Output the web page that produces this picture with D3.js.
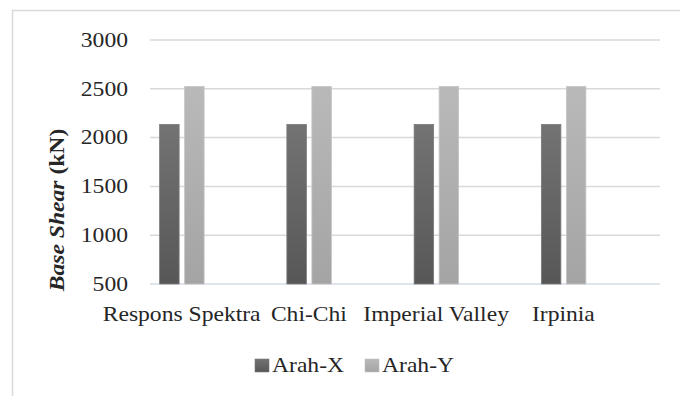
<!DOCTYPE html>
<html><head><meta charset="utf-8">
<script src="https://cdn.jsdelivr.net/npm/d3@7"></script>
<style>body{margin:0;background:#fff}svg{display:block}</style>
</head><body><svg id="c" width="680" height="396" font-family="'Times New Roman', 'Liberation Serif', Tinos, 'DejaVu Serif', serif"></svg>
<script>
const categories = ["Respons Spektra", "Chi-Chi", "Imperial Valley", "Irpinia"];
const seriesNames = ["Arah-X", "Arah-Y"];
const arahX = [2135, 2135, 2135, 2135];
const arahY = [2523, 2523, 2523, 2523];
const yTicks = [500, 1000, 1500, 2000, 2500, 3000];
const yTitle = ["Base Shear", " (kN)"];

const svg = d3.select("#c");
const stretch = 1.18;
const textColor = "#262626";
const plot = {left: 150, right: 660, top: 40, bottom: 284};

// frame
svg.append("path").attr("d", "M12.5,700 V10.5 H700").attr("fill","none").attr("stroke","#d9d9d9").attr("stroke-width",1.5);

const y = d3.scaleLinear().domain([500, 3000]).range([plot.bottom, plot.top]);
const x = d3.scaleBand().domain(categories).range([118, 627]);
const xs = d3.scaleBand().domain(seriesNames).range([-22, 22.5]).paddingInner(0.22);

const defs = svg.append("defs");
const grads = [["gX", "#737373", "#575757"], ["gY", "#b9b9b9", "#a4a4a4"]];
grads.forEach(([id, c1, c2]) => {
  const g = defs.append("linearGradient").attr("id", id).attr("x1",0).attr("y1",0).attr("x2",0).attr("y2",1);
  g.append("stop").attr("offset","0").attr("stop-color", c1);
  g.append("stop").attr("offset","1").attr("stop-color", c2);
});
const fills = {"Arah-X": "url(#gX)", "Arah-Y": "url(#gY)"};
const strokes = {"Arah-X": "#7a7a7a", "Arah-Y": "#c4c4c4"};

// gridlines
svg.append("g").selectAll("line").data(yTicks).join("line")
  .attr("x1", plot.left).attr("x2", plot.right)
  .attr("y1", d => y(d)).attr("y2", d => y(d))
  .attr("stroke", d => d === 500 ? "#d6dce4" : "#d9d9d9").attr("stroke-width", 1.5);

// y tick labels
svg.append("g").selectAll("text").data(yTicks).join("text")
  .attr("transform", d => `translate(128,${y(d)}) scale(${stretch},1)`)
  .attr("text-anchor", "end").attr("dy", "0.34em").attr("font-size", 20).attr("fill", textColor)
  .text(d => d);

// bars
const rows = categories.map((c, i) => ({c, vals: [{s: "Arah-X", v: arahX[i]}, {s: "Arah-Y", v: arahY[i]}]}));
const gc = svg.append("g").selectAll("g").data(rows).join("g")
  .attr("transform", d => `translate(${x(d.c) + x.bandwidth()/2},0)`);
gc.selectAll("rect").data(d => d.vals).join("rect")
  .attr("x", d => xs(d.s)).attr("width", xs.bandwidth())
  .attr("y", d => y(d.v)).attr("height", d => y(500) - y(d.v))
  .attr("fill", d => fills[d.s]).attr("stroke", d => strokes[d.s]).attr("stroke-width", 0.8);

// category labels
svg.append("g").selectAll("text").data(categories).join("text")
  .attr("transform", d => `translate(${x(d) + x.bandwidth()/2},321) scale(${stretch},1)`)
  .attr("text-anchor", "middle").attr("font-size", 20).attr("fill", textColor).text(d => d);

// y title
const t = svg.append("text").attr("transform", `translate(64,210) rotate(-90) scale(${stretch},1)`)
  .attr("text-anchor", "middle").attr("font-size", 20).attr("font-weight", "bold").attr("fill", textColor);
t.append("tspan").attr("font-style", "italic").text(yTitle[0]);
t.append("tspan").text(yTitle[1]);

// legend
const legendX = [255, 365];
const lg = svg.append("g").selectAll("g").data(seriesNames).join("g")
  .attr("transform", (d, i) => `translate(${legendX[i]},0)`);
lg.append("rect").attr("x", 0).attr("y", 359).attr("width", 14).attr("height", 13)
  .attr("fill", d => fills[d]).attr("stroke", d => strokes[d]).attr("stroke-width", 0.6);
lg.append("text").attr("transform", `translate(17,372) scale(${stretch},1)`).attr("font-size", 20).attr("fill", textColor).text(d => d);
</script></body></html>
